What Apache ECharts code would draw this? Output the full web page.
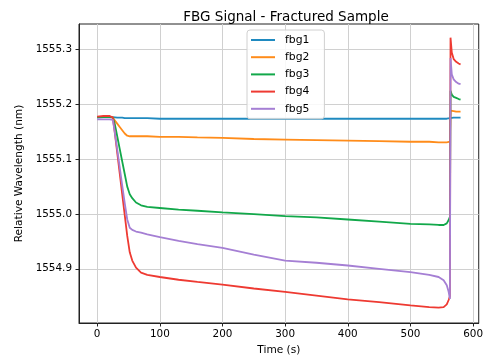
<!DOCTYPE html>
<html>
<head>
<meta charset="utf-8">
<script src="https://cdn.jsdelivr.net/npm/echarts@6/dist/echarts.min.js"></script>
<style>
html,body{margin:0;padding:0;background:#fff;}
#chart{width:486px;height:361px;}
</style>
</head>
<body>
<div id="chart"></div>
<script>
const times = [0, 10, 20, 25, 28, 32, 36, 40, 44, 48, 52, 56, 62, 70, 80, 100, 130, 160, 200, 250, 300, 350, 400, 450, 500, 530, 545, 553, 558, 561, 563, 564, 566, 569, 573, 577, 580];
const fbg1 = [1555.176, 1555.177, 1555.177, 1555.177, 1555.176, 1555.176, 1555.176, 1555.176, 1555.175, 1555.175, 1555.175, 1555.175, 1555.175, 1555.175, 1555.175, 1555.174, 1555.174, 1555.174, 1555.174, 1555.174, 1555.174, 1555.174, 1555.174, 1555.174, 1555.174, 1555.174, 1555.174, 1555.174, 1555.174, 1555.174, 1555.175, 1555.176, 1555.176, 1555.176, 1555.176, 1555.176, 1555.176];
const fbg2 = [1555.177, 1555.177, 1555.177, 1555.177, 1555.171, 1555.165, 1555.159, 1555.153, 1555.147, 1555.143, 1555.142, 1555.142, 1555.142, 1555.142, 1555.142, 1555.141, 1555.141, 1555.140, 1555.139, 1555.137, 1555.136, 1555.135, 1555.134, 1555.133, 1555.132, 1555.132, 1555.131, 1555.131, 1555.131, 1555.131, 1555.132, 1555.189, 1555.188, 1555.188, 1555.187, 1555.187, 1555.187];
const fbg3 = [1555.177, 1555.177, 1555.177, 1555.176, 1555.165, 1555.142, 1555.119, 1555.096, 1555.073, 1555.050, 1555.036, 1555.029, 1555.021, 1555.016, 1555.013, 1555.011, 1555.008, 1555.006, 1555.003, 1555.000, 1554.996, 1554.994, 1554.990, 1554.986, 1554.982, 1554.981, 1554.980, 1554.980, 1554.983, 1554.989, 1554.995, 1555.225, 1555.218, 1555.214, 1555.212, 1555.210, 1555.209];
const fbg4 = [1555.178, 1555.179, 1555.179, 1555.176, 1555.150, 1555.112, 1555.074, 1555.036, 1554.998, 1554.960, 1554.930, 1554.915, 1554.902, 1554.893, 1554.889, 1554.885, 1554.880, 1554.876, 1554.871, 1554.864, 1554.858, 1554.851, 1554.844, 1554.839, 1554.833, 1554.830, 1554.829, 1554.830, 1554.835, 1554.843, 1554.850, 1555.322, 1555.295, 1555.283, 1555.278, 1555.275, 1555.273];
const fbg5 = [1555.173, 1555.173, 1555.173, 1555.172, 1555.150, 1555.118, 1555.085, 1555.052, 1555.020, 1554.990, 1554.975, 1554.971, 1554.968, 1554.966, 1554.963, 1554.958, 1554.951, 1554.945, 1554.938, 1554.926, 1554.915, 1554.911, 1554.906, 1554.900, 1554.894, 1554.889, 1554.885, 1554.879, 1554.870, 1554.858, 1554.845, 1555.285, 1555.255, 1555.246, 1555.241, 1555.238, 1555.237];
const seriesNames = ['fbg1', 'fbg2', 'fbg3', 'fbg4', 'fbg5'];
const seriesValues = [fbg1, fbg2, fbg3, fbg4, fbg5];
const colors = ['#1f8ac0', '#ff8c1a', '#12a84a', '#ee3a32', '#a57fd4'];
const xTicks = [0, 100, 200, 300, 400, 500, 600];
const yTicks = [1554.9, 1555.0, 1555.1, 1555.2, 1555.3];

const font = 'DejaVu Sans';
const chart = echarts.init(document.getElementById('chart'), null, {renderer: 'canvas'});
chart.setOption({
  animation: false,
  backgroundColor: '#fff',
  title: {
    text: 'FBG Signal - Fractured Sample',
    left: 281, top: 5, textAlign: 'center',
    textStyle: {fontFamily: font, fontSize: 13.5, fontWeight: 'normal', color: '#000'}
  },
  grid: {left: 79, right: 3, top: 24, bottom: 36, show: true, borderColor: '#222', borderWidth: 1, backgroundColor: 'transparent'},
  legend: {
    orient: 'vertical', left: 247, top: 30,
    data: seriesNames,
    icon: 'rect', itemWidth: 24, itemHeight: 2, itemGap: 3.2,
    padding: [3, 15, 3, 4],
    backgroundColor: 'rgba(255,255,255,0.85)', borderColor: '#d0d0d0', borderWidth: 1, borderRadius: 3,
    textStyle: {fontFamily: font, fontSize: 10.8, color: '#000', lineHeight: 14, padding: [0, 0, 0, 5]}
  },
  xAxis: {
    type: 'value', min: -29, max: 609,
    name: 'Time (s)', nameLocation: 'middle', nameGap: 22,
    nameTextStyle: {fontFamily: font, fontSize: 10.6, color: '#000'},
    axisLine: {show: true, onZero: false, lineStyle: {color: '#222', width: 1}},
    axisTick: {show: true, length: 3.5, customValues: xTicks, lineStyle: {color: '#222'}},
    axisLabel: {customValues: xTicks, fontFamily: font, fontSize: 10.4, color: '#000', margin: 6},
    splitLine: {show: true, lineStyle: {color: '#d0d0d0', width: 1}}
  },
  yAxis: {
    type: 'value', min: 1554.801, max: 1555.347,
    name: 'Relative Wavelength (nm)', nameLocation: 'middle', nameGap: 52,
    nameTextStyle: {fontFamily: font, fontSize: 10.6, color: '#000'},
    axisLine: {show: true, onZero: false, lineStyle: {color: '#222', width: 1}},
    axisTick: {show: true, length: 3.5, customValues: yTicks, lineStyle: {color: '#222'}},
    axisLabel: {customValues: yTicks, fontFamily: font, fontSize: 10.4, color: '#000', margin: 7,
      formatter: v => Number(v).toFixed(1)},
    splitLine: {show: true, lineStyle: {color: '#d0d0d0', width: 1}}
  },
  series: seriesNames.map((n, i) => ({
    name: n, type: 'line', showSymbol: false, symbol: 'none',
    data: times.map((t, j) => [t, seriesValues[i][j]]),
    lineStyle: {color: colors[i], width: 1.8},
    itemStyle: {color: colors[i]},
    z: 2 + i
  }))
});
</script>
</body>
</html>
